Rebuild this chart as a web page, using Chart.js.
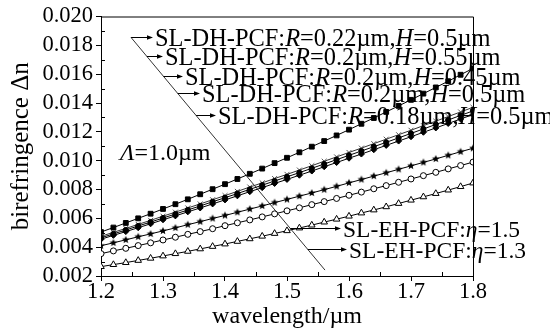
<!DOCTYPE html>
<html><head><meta charset="utf-8">
<script src="https://cdn.jsdelivr.net/npm/chart.js@4.4.1/dist/chart.umd.min.js"></script>
<style>html,body{margin:0;padding:0;background:#fff}#wrap{width:550px;height:331px}</style>
</head><body><div id="wrap"><canvas id="c" width="550" height="331"></canvas></div>
<script>
// ---- data ----
const wavelengths = [1.20,1.22,1.24,1.26,1.28,1.30,1.32,1.34,1.36,1.38,1.40,1.42,1.44,1.46,1.48,1.50,1.52,1.54,1.56,1.58,1.60,1.62,1.64,1.66,1.68,1.70,1.72,1.74,1.76,1.78,1.80];
const dhR022H05 = [0.00505,0.00536,0.00568,0.00600,0.00632,0.00665,0.00698,0.00732,0.00767,0.00802,0.00837,0.00873,0.00909,0.00945,0.00983,0.01020,0.01058,0.01097,0.01136,0.01175,0.01215,0.01256,0.01296,0.01338,0.01380,0.01422,0.01465,0.01508,0.01551,0.01596,0.01640];
const dhR02H055 = [0.00475,0.00503,0.00530,0.00558,0.00586,0.00615,0.00643,0.00672,0.00700,0.00729,0.00758,0.00787,0.00817,0.00846,0.00876,0.00905,0.00935,0.00965,0.00996,0.01026,0.01057,0.01087,0.01118,0.01149,0.01180,0.01211,0.01243,0.01274,0.01306,0.01338,0.01370];
const dhR02H045 = [0.00465,0.00492,0.00519,0.00547,0.00574,0.00602,0.00630,0.00658,0.00686,0.00715,0.00743,0.00772,0.00801,0.00830,0.00859,0.00888,0.00917,0.00947,0.00977,0.01007,0.01037,0.01067,0.01097,0.01127,0.01158,0.01189,0.01220,0.01251,0.01282,0.01314,0.01345];
const dhR02H05 = [0.00455,0.00482,0.00508,0.00535,0.00562,0.00590,0.00617,0.00645,0.00672,0.00700,0.00728,0.00756,0.00785,0.00813,0.00842,0.00870,0.00899,0.00928,0.00958,0.00987,0.01017,0.01046,0.01076,0.01106,0.01136,0.01166,0.01197,0.01227,0.01258,0.01289,0.01320];
const dhR018H05 = [0.00410,0.00430,0.00451,0.00472,0.00492,0.00513,0.00534,0.00556,0.00577,0.00599,0.00620,0.00642,0.00664,0.00686,0.00709,0.00731,0.00754,0.00776,0.00799,0.00822,0.00846,0.00869,0.00893,0.00916,0.00940,0.00964,0.00988,0.01012,0.01037,0.01062,0.01086];
const ehEta15 = [0.00355,0.00374,0.00392,0.00411,0.00430,0.00450,0.00469,0.00489,0.00508,0.00528,0.00549,0.00569,0.00589,0.00610,0.00631,0.00652,0.00673,0.00695,0.00716,0.00738,0.00760,0.00782,0.00805,0.00827,0.00850,0.00873,0.00896,0.00919,0.00943,0.00966,0.00990];
const ehEta13 = [0.00265,0.00279,0.00293,0.00308,0.00323,0.00339,0.00355,0.00371,0.00388,0.00405,0.00422,0.00440,0.00458,0.00476,0.00495,0.00514,0.00533,0.00553,0.00574,0.00594,0.00615,0.00637,0.00658,0.00680,0.00703,0.00726,0.00749,0.00772,0.00796,0.00820,0.00845];
// leader (diagonal) line, in data units
const leaderX = [1.2484, 1.5613];
const leaderY = [0.01855, 0.00241];
// labels ('*' toggles italic)
const seriesLabels = [
  "SL-DH-PCF:*R*=0.22µm,*H*=0.5µm",
  "SL-DH-PCF:*R*=0.2µm,*H*=0.55µm",
  "SL-DH-PCF:*R*=0.2µm,*H*=0.45µm",
  "SL-DH-PCF:*R*=0.2µm,*H*=0.5µm",
  "SL-DH-PCF:*R*=0.18µm,*H*=0.5µm",
  "SL-EH-PCF:*η*=1.5",
  "SL-EH-PCF:*η*=1.3"
];
const labelArrowY = [0.01855, 0.01723, 0.01585, 0.01467, 0.01315, 0.00533, 0.00387];
const labelArrowEndX = [1.2839, 1.3000, 1.3323, 1.3597, 1.3855, 1.5871, 1.5968];
const periodLabel = "*Λ*=1.0µm";
const periodLabelPos = [1.2306, 0.01003];
const yTickValues = [0.002,0.004,0.006,0.008,0.010,0.012,0.014,0.016,0.018,0.020];
const xTickValues = [1.2,1.3,1.4,1.5,1.6,1.7,1.8];

// ---- styling ----
const FONT = '"Liberation Serif", "Times New Roman", serif';
const labelSizes = [24.4, 24.4, 24.4, 24.4, 24.4, 23.5, 23.5];
function makeStar(r){
  const c=document.createElement('canvas'); const s=Math.ceil(r*2+2);
  c.width=s; c.height=s; const g=c.getContext('2d'); g.fillStyle='#000'; g.beginPath();
  for(let i=0;i<10;i++){const a=-Math.PI/2+i*Math.PI/5; const rr=i%2?r*0.45:r; g.lineTo(s/2+rr*Math.cos(a), s/2+rr*Math.sin(a));}
  g.closePath(); g.fill(); return c;
}
const starImg = makeStar(4);
const pts = arr => wavelengths.map((w,i)=>({x:w,y:arr[i]}));
function ds(arr, style){
  return Object.assign({data:pts(arr), borderColor:'#000', borderWidth:1, tension:0, fill:false,
    pointBorderColor:'#000', pointBackgroundColor:'#000', pointBorderWidth:1}, style);
}
function drawRich(ctx, text, x, y, size){
  const parts = text.split('*'); let cx = x;
  parts.forEach((p,i)=>{
    if(!p) return;
    ctx.font = (i%2 ? 'italic ' : '') + size + 'px ' + FONT;
    ctx.fillText(p, cx, y); cx += ctx.measureText(p).width;
  });
}
const annot = {
  id:'annot',
  afterDatasetsDraw(chart){
    const {ctx, chartArea:ca} = chart; const x = chart.scales.x, y = chart.scales.y;
    ctx.save();
    ctx.strokeStyle='#000'; ctx.fillStyle='#000'; ctx.lineWidth=1;
    // frame top/right
    ctx.beginPath(); ctx.moveTo(ca.left, ca.top+0.5); ctx.lineTo(ca.right+0.5, ca.top+0.5); ctx.lineTo(ca.right+0.5, ca.bottom); ctx.stroke();
    // minor ticks (inside)
    ctx.beginPath();
    for(let i=0;i<yTickValues.length-1;i++){const v=(yTickValues[i]+yTickValues[i+1])/2; const py=Math.round(y.getPixelForValue(v))+0.5; ctx.moveTo(ca.left, py); ctx.lineTo(ca.left+4, py);}
    for(let i=0;i<xTickValues.length-1;i++){const v=(xTickValues[i]+xTickValues[i+1])/2; const px=Math.round(x.getPixelForValue(v))+0.5; ctx.moveTo(px, ca.bottom); ctx.lineTo(px, ca.bottom-4);}
    ctx.stroke();
    // leader arrows + labels
    const dx0=x.getPixelForValue(leaderX[0]), dy0=y.getPixelForValue(leaderY[0]);
    const dx1=x.getPixelForValue(leaderX[1]), dy1=y.getPixelForValue(leaderY[1]);
    ctx.textBaseline='alphabetic'; ctx.textAlign='left';
    seriesLabels.forEach((lab,i)=>{
      const py = Math.round(y.getPixelForValue(labelArrowY[i]))+0.5;
      const sx = dx0 + (py-dy0)/(dy1-dy0)*(dx1-dx0);
      const ex = x.getPixelForValue(labelArrowEndX[i]);
      ctx.beginPath(); ctx.moveTo(sx,py); ctx.lineTo(ex-4,py); ctx.stroke();
      ctx.beginPath(); ctx.moveTo(ex,py); ctx.lineTo(ex-6,py-2.2); ctx.lineTo(ex-6,py+2.2); ctx.closePath(); ctx.fill();
      drawRich(ctx, lab, ex+2, py+8.5, labelSizes[i]);
    });
    drawRich(ctx, periodLabel, x.getPixelForValue(periodLabelPos[0]), y.getPixelForValue(periodLabelPos[1]), 24);
    ctx.restore();
  }
};

Chart.defaults.color = '#000';
Chart.defaults.font.family = FONT;
new Chart(document.getElementById('c'), {
  type:'line',
  data:{datasets:[
    ds(ehEta13, {pointStyle:'triangle', pointRadius:3.8, pointBackgroundColor:'#fff'}),
    ds(ehEta15, {pointStyle:'circle', pointRadius:3, pointBackgroundColor:'#fff'}),
    ds(dhR018H05, {pointStyle:starImg}),
    ds(dhR02H05, {pointStyle:'rectRot', pointRadius:3}),
    ds(dhR02H045, {pointStyle:'circle', pointRadius:2.6}),
    ds(dhR02H055, {pointStyle:'crossRot', pointRadius:3.5, pointBorderColor:'#555', borderColor:'#333'}),
    ds(dhR022H05, {pointStyle:'rect', pointRadius:3.4}),
    {data:[{x:leaderX[0],y:leaderY[0]},{x:leaderX[1],y:leaderY[1]}], borderColor:'#333', borderWidth:1, pointRadius:0, fill:false}
  ]},
  options:{
    responsive:false, animation:false, devicePixelRatio:1,
    layout:{padding:{top:16, right:77, left:0, bottom:0}},
    plugins:{legend:{display:false}, tooltip:{enabled:false}},
    scales:{
      x:{type:'linear', min:1.2, max:1.8,
        afterBuildTicks:s=>{s.ticks = xTickValues.map(v=>({value:v}));},
        afterFit:s=>{s.height=55;},
        ticks:{autoSkip:false, maxRotation:0, padding:0, font:{size:22.5, lineHeight:1.0}, callback:v=>Number(v).toFixed(1)},
        grid:{drawOnChartArea:false, drawTicks:true, tickLength:5, color:'#000'},
        border:{display:true, color:'#000', width:1},
        title:{display:true, text:'wavelength/µm', font:{size:24}, padding:{top:0,bottom:0}}
      },
      y:{type:'linear', min:0.002, max:0.020,
        afterBuildTicks:s=>{s.ticks = yTickValues.map(v=>({value:v}));},
        afterFit:s=>{s.width=101;},
        ticks:{autoSkip:false, padding:3, font:{size:22.5}, callback:v=>Number(v).toFixed(3)},
        grid:{drawOnChartArea:false, drawTicks:true, tickLength:5, color:'#000'},
        border:{display:true, color:'#000', width:1},
        title:{display:true, text:'birefringence Δn', font:{size:25}, padding:{top:6,bottom:0}}
      }
    }
  },
  plugins:[annot]
});
</script>
</body></html>
